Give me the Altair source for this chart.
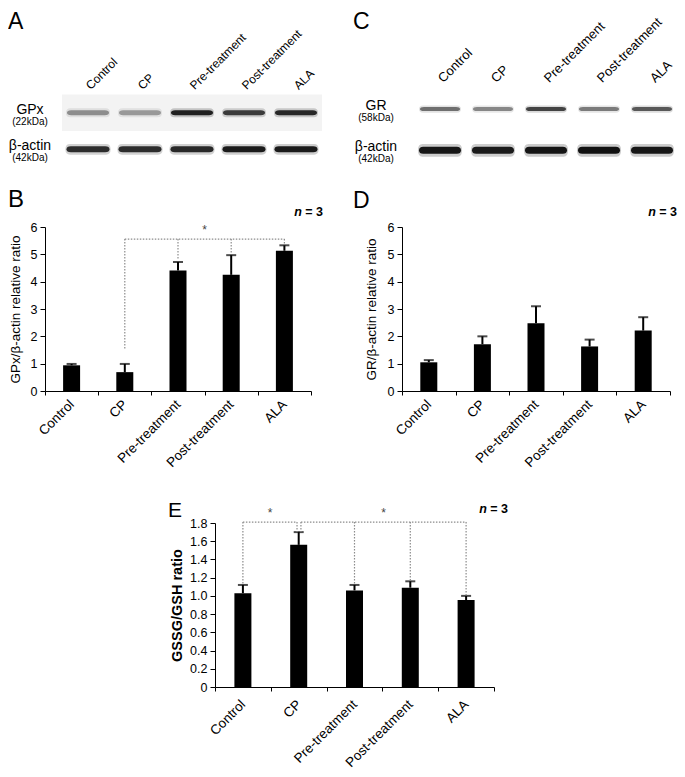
import altair as alt
import pandas as pd

FONT = "Liberation Sans"

groups = ["Control", "CP", "Pre-treatment", "Post-treatment", "ALA"]
panel_letters = ["A", "B", "C", "D", "E"]
n_label = ["n", "= 3"]

# ---- Panel A: western blot (relative band darkness, 0-1) ----
a_rows = ["GPx", "β-actin"]
a_kda = ["(22kDa)", "(42kDa)"]
gpx_band = [0.40, 0.35, 0.92, 0.78, 0.88]
actin_a_band = [0.85, 0.85, 0.88, 0.95, 0.95]

# ---- Panel C: western blot ----
c_rows = ["GR", "β-actin"]
c_kda = ["(58kDa)", "(42kDa)"]
gr_band = [0.55, 0.45, 0.75, 0.50, 0.65]
actin_c_band = [0.97, 0.95, 0.98, 1.00, 0.97]

# ---- Panel B: GPx / beta-actin relative ratio (mean, SD) ----
gpx_mean = [0.94, 0.69, 4.41, 4.25, 5.13]
gpx_sd = [0.05, 0.30, 0.31, 0.72, 0.20]

# ---- Panel D: GR / beta-actin relative ratio ----
gr_mean = [1.05, 1.71, 2.48, 1.63, 2.21]
gr_sd = [0.08, 0.29, 0.62, 0.25, 0.49]

# ---- Panel E: GSSG/GSH ratio ----
gssg_mean = [1.03, 1.56, 1.06, 1.09, 0.955]
gssg_sd = [0.09, 0.14, 0.06, 0.07, 0.045]

# significance brackets (x in group-index units, y in data units)
b_br_x1 = [1]
b_br_x2 = [4]
b_br_y = 5.56
b_drop_x = [1, 2, 3, 4]
b_drop_end = [1.5, 4.85, 5.05, 5.4]
b_star_x = [2.5]
b_star_y = 5.99

e_br_x1 = [0, 1.04]
e_br_x2 = [0.97, 4]
e_br_y = 1.81
e_drop_x = [0, 0.97, 1.04, 2, 3, 4]
e_drop_end = [1.12, 1.70, 1.70, 1.12, 1.16, 1.0]
e_star_x = [0.485, 2.52]
e_star_y = 1.943

# ---------------------------------------------------------------------------
# Layout: one view covering the page, every panel has its own scales whose
# pixel ranges place it; axes are moved onto those ranges with offsets.
W_ALL, H_ALL = 669, 761


def P(v):
    """page pixel -> chart pixel"""
    return v - 8


BRACKET = dict(strokeDash=[1.5, 1.5], color="#8c8c8c", strokeWidth=1.2)


def band_path(half_h, w):
    b = half_h / (w / 2.0)
    e = 0.8
    return (f"M-1,0 Q-1,{-b:.4f} -{e},{-b:.4f} L{e},{-b:.4f} Q1,{-b:.4f} 1,0 "
            f"Q1,{b:.4f} {e},{b:.4f} L-{e},{b:.4f} Q-1,{b:.4f} -1,0 Z")


def text_layer(txt, x, y, **kw):
    df = pd.DataFrame({"t": [txt]})
    return alt.Chart(df).mark_text(color="black", **kw).encode(
        x=alt.value(x), y=alt.value(y), text="t:N")


def blot_panel(letter, rows, kda, top_band, bot_band, xr, yr, lab_size,
               lab_y, letter_xy, rowlab_x, specs, background=None):
    df = pd.DataFrame({
        "lane": groups * 2,
        "row": [rows[0]] * 5 + [rows[1]] * 5,
        "inten": top_band + bot_band,
    })

    def X(axis):
        return alt.X("lane:N", sort=groups,
                     scale=alt.Scale(domain=groups, range=[P(xr[0]), P(xr[1])],
                                     paddingInner=0, paddingOuter=0),
                     axis=axis)

    lane_axis = alt.Axis(orient="top", title=None, labelAngle=-45,
                         labelAlign="left", labelBaseline="middle",
                         ticks=False, tickSize=0, domain=False,
                         labelPadding=0, labelFontSize=lab_size,
                         labelColor="black", labelOverlap=False,
                         offset=-P(lab_y))
    Y = alt.Y("row:N", sort=rows,
              scale=alt.Scale(domain=rows, range=[P(yr[0]), P(yr[1])],
                              paddingInner=0, paddingOuter=0), axis=None)
    layers = []
    first = True
    if background:
        bg_df = pd.DataFrame({"lane": groups, "row": [rows[0]] * 5})
        layers.append(alt.Chart(bg_df).mark_rect(color=background).encode(
            x=X(lane_axis), y=Y))
        first = False
    for row, (w, hh) in zip(rows, specs):
        base = alt.Chart(df).transform_filter(
            alt.datum.row == row).transform_calculate(halo="datum.inten * 0.22")
        halo = base.mark_point(shape=band_path(hh * 1.8, w * 1.05),
                               size=(w * 1.05) ** 2, filled=True,
                               color="#111111", strokeWidth=0).encode(
            x=X(lane_axis if first else None), y=Y,
            opacity=alt.Opacity("halo:Q", scale=None))
        first = False
        core = base.mark_point(shape=band_path(hh, w), size=w ** 2,
                               filled=True, color="#111111",
                               strokeWidth=0).encode(
            x=X(None), y=Y, opacity=alt.Opacity("inten:Q", scale=None))
        layers += [halo, core]
    lab_df = pd.DataFrame({"row": rows, "name": rows, "kda": kda})
    names = alt.Chart(lab_df).mark_text(fontSize=14, dy=-3, align="center",
                                        baseline="middle", color="black").encode(
        x=alt.value(P(rowlab_x)), y=Y, text="name:N")
    kdas = alt.Chart(lab_df).mark_text(fontSize=10, dy=9, align="center",
                                       baseline="middle", color="black").encode(
        x=alt.value(P(rowlab_x)), y=Y, text="kda:N")
    let = text_layer(letter, P(letter_xy[0]), P(letter_xy[1]), fontSize=23,
                     align="left", baseline="alphabetic")
    return layers + [names, kdas, let]


def bar_panel(letter, mean, sd, ydom, yvals, ytitle, title_kw, xr, yr,
              letter_xy, letter_size, n_right, n_y,
              br_x1, br_x2, br_y, drop_x, drop_end, star_x, star_y,
              label_expr=None, xlab_pad=7, xlab_size=13.5):
    upper = [m + s for m, s in zip(mean, sd)]
    bars_df = pd.DataFrame({"group": groups, "y": mean, "y2": upper})
    caps_df = pd.DataFrame({"group": groups, "y": upper})

    ax_kw = dict(orient="left", values=yvals, title=ytitle, grid=False,
                 tickSize=5, labelPadding=3, labelFontSize=12.5,
                 domainColor="black", tickColor="black", labelColor="black",
                 titleColor="black", offset=-P(xr[0]))
    ax_kw.update(title_kw)
    if label_expr:
        ax_kw["labelExpr"] = label_expr
    yscale = alt.Scale(domain=ydom, range=[P(yr[0]), P(yr[1])], nice=False,
                       zero=False)

    def Y(axis=None):
        return alt.Y("y:Q", scale=yscale, axis=axis)

    xaxis = alt.Axis(orient="bottom", title=None, labelAngle=-45,
                     labelAlign="right", labelBaseline="middle",
                     tickBand="extent", tickSize=4, labelPadding=xlab_pad,
                     labelFontSize=xlab_size, domainColor="black",
                     tickColor="black", labelColor="black",
                     labelOverlap=False, offset=P(yr[0]) - H_ALL)

    def X(axis=None):
        return alt.X("group:N", sort=groups,
                     scale=alt.Scale(domain=groups,
                                     range=[P(xr[0]), P(xr[1])],
                                     paddingInner=0, paddingOuter=0),
                     axis=axis)

    bars = alt.Chart(bars_df).mark_bar(size=17, color="black").encode(
        x=X(xaxis), y=Y(alt.Axis(**ax_kw)))
    errs = alt.Chart(bars_df).mark_rule(strokeWidth=2, color="black").encode(
        x=X(), y=Y(), y2="y2:Q")
    caps = alt.Chart(caps_df).mark_tick(thickness=2, size=10,
                                        color="black").encode(x=X(), y=Y())
    layers = [errs, bars, caps]

    XQ = alt.X("x:Q", scale=alt.Scale(domain=[-0.5, 4.5],
                                      range=[P(xr[0]), P(xr[1])],
                                      nice=False, zero=False), axis=None)
    if br_x1:
        h_df = pd.DataFrame({"x": br_x1, "x2": br_x2,
                             "y": [br_y] * len(br_x1)})
        layers.append(alt.Chart(h_df).mark_rule(**BRACKET).encode(
            x=XQ, x2="x2:Q", y=Y()))
        d_df = pd.DataFrame({"x": drop_x, "y": [br_y] * len(drop_x),
                             "y2": drop_end})
        layers.append(alt.Chart(d_df).mark_rule(**BRACKET).encode(
            x=XQ, y=Y(), y2="y2:Q"))
        s_df = pd.DataFrame({"x": star_x, "y": [star_y] * len(star_x),
                             "t": ["*"] * len(star_x)})
        layers.append(alt.Chart(s_df).mark_text(
            fontSize=12, color="#444444", baseline="alphabetic",
            dy=7).encode(x=XQ, y=Y(), text="t:N"))
    layers.append(text_layer(letter, P(letter_xy[0]), P(letter_xy[1]),
                             fontSize=letter_size, align="left",
                             baseline="alphabetic"))
    layers.append(text_layer(n_label[0], P(n_right) - 21, P(n_y),
                             fontSize=12.5, fontWeight="bold",
                             fontStyle="italic", align="right",
                             baseline="middle"))
    layers.append(text_layer(n_label[1], P(n_right), P(n_y), fontSize=12.5,
                             fontWeight="bold", align="right",
                             baseline="middle"))
    return layers


panel_A = blot_panel(panel_letters[0], a_rows, a_kda, gpx_band, actin_a_band,
                     xr=(62, 322), yr=(94.4, 167.6), lab_size=12, lab_y=87,
                     letter_xy=(8, 29), rowlab_x=30,
                     specs=[(42, 2.5), (43, 3.0)], background="#f3f3f3")
panel_C = blot_panel(panel_letters[2], c_rows, c_kda, gr_band, actin_c_band,
                     xr=(413.5, 678.5), yr=(88.4, 171), lab_size=13,
                     lab_y=80, letter_xy=(353, 29), rowlab_x=376,
                     specs=[(40, 2.0), (42, 3.5)])

panel_B = bar_panel(panel_letters[1], gpx_mean, gpx_sd, [0, 6],
                    [0, 1, 2, 3, 4, 5, 6], "GPx/β-actin relative ratio",
                    dict(titleFontSize=13.5, titleFontWeight="normal",
                         titleX=-23),
                    xr=(45, 311), yr=(391, 227), letter_xy=(8, 207),
                    letter_size=24, n_right=323, n_y=211.5,
                    br_x1=b_br_x1, br_x2=b_br_x2, br_y=b_br_y,
                    drop_x=b_drop_x, drop_end=b_drop_end,
                    star_x=b_star_x, star_y=b_star_y)

panel_D = bar_panel(panel_letters[3], gr_mean, gr_sd, [0, 6],
                    [0, 1, 2, 3, 4, 5, 6], "GR/β-actin relative ratio",
                    dict(titleFontSize=13.5, titleFontWeight="normal",
                         titleX=-24),
                    xr=(402, 670), yr=(391, 227), letter_xy=(353, 208),
                    letter_size=23, n_right=677, n_y=211.5,
                    br_x1=[], br_x2=[], br_y=0, drop_x=[], drop_end=[],
                    star_x=[], star_y=0)

panel_E = bar_panel(panel_letters[4], gssg_mean, gssg_sd, [0, 1.8],
                    [0, 0.2, 0.4, 0.6, 0.8, 1.0, 1.2, 1.4, 1.6, 1.8],
                    "GSSG/GSH ratio",
                    dict(titleFontSize=14.5, titleFontWeight="bold",
                         titleX=-31),
                    xr=(215, 494), yr=(687, 523), letter_xy=(168, 517),
                    letter_size=21, n_right=508, n_y=508.5,
                    br_x1=e_br_x1, br_x2=e_br_x2, br_y=e_br_y,
                    drop_x=e_drop_x, drop_end=e_drop_end,
                    star_x=e_star_x, star_y=e_star_y,
                    label_expr="datum.value == 0 ? '0' : format(datum.value, '.1f')",
                    xlab_pad=11, xlab_size=13.5)

chart = alt.layer(
    *(panel_A + panel_C + panel_B + panel_D + panel_E)
).resolve_scale(
    x="independent", y="independent"
).properties(
    width=W_ALL, height=H_ALL,
    autosize=alt.AutoSizeParams(type="none"),
    padding=0,
).configure(font=FONT).configure_view(stroke=None).configure_axis(
    labelFont=FONT, titleFont=FONT)

chart.save("out.html", embed_options={"renderer": "svg", "actions": False})
